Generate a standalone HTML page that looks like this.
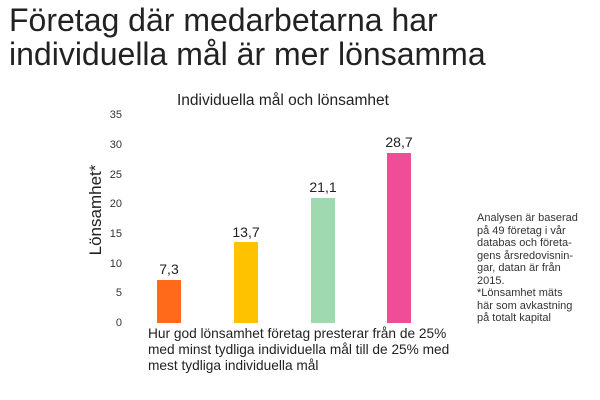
<!DOCTYPE html>
<html><head><meta charset="utf-8"><style>
body{margin:0;width:600px;height:400px;background:#fff;font-family:"Liberation Sans",sans-serif;color:#222;position:relative;overflow:hidden}
.a{position:absolute;white-space:nowrap}
.t{right:478px;font-size:11px;color:#333;text-align:right}
.bar{position:absolute;width:24px;bottom:77px}
.v{font-size:14px;text-align:center;width:50px}
</style></head><body>
<div class="a" style="left:9px;top:3px;font-size:32px;line-height:34px;color:#222">Företag där medarbetarna har<br>individuella mål är mer lönsamma</div>
<div class="a" style="left:177px;top:92px;font-size:15.5px">Individuella mål och lönsamhet</div>
<div class="a t" style="top:109px">35</div>
<div class="a t" style="top:139px">30</div>
<div class="a t" style="top:169px">25</div>
<div class="a t" style="top:198px">20</div>
<div class="a t" style="top:228px">15</div>
<div class="a t" style="top:258px">10</div>
<div class="a t" style="top:287px">5</div>
<div class="a t" style="top:317px">0</div>
<div class="a" style="top:210px;font-size:17px;transform:translate(-50%,-50%) rotate(-90deg);left:96px">Lönsamhet*</div>
<div class="bar" style="left:157px;height:43px;background:#ff6a1a"></div>
<div class="bar" style="left:234px;height:81px;background:#ffc200"></div>
<div class="bar" style="left:311px;height:125px;background:#9fd9b0"></div>
<div class="bar" style="left:387px;height:170px;background:#ef4e96"></div>
<div class="a v" style="left:144px;top:261px">7,3</div>
<div class="a v" style="left:221px;top:224px">13,7</div>
<div class="a v" style="left:298px;top:179px">21,1</div>
<div class="a v" style="left:374px;top:134px">28,7</div>
<div class="a" style="left:148px;top:326px;font-size:13.7px;line-height:16px">Hur god lönsamhet företag presterar från de 25%<br>med minst tydliga individuella mål till de 25% med<br>mest tydliga individuella mål</div>
<div class="a" style="left:477px;top:212px;font-size:11px;line-height:12.5px;color:#333">Analysen är baserad<br>på 49 företag i vår<br>databas och företa-<br>gens årsredovisnin-<br>gar, datan är från<br>2015.<br>*Lönsamhet mäts<br>här som avkastning<br>på totalt kapital</div>
</body></html>
